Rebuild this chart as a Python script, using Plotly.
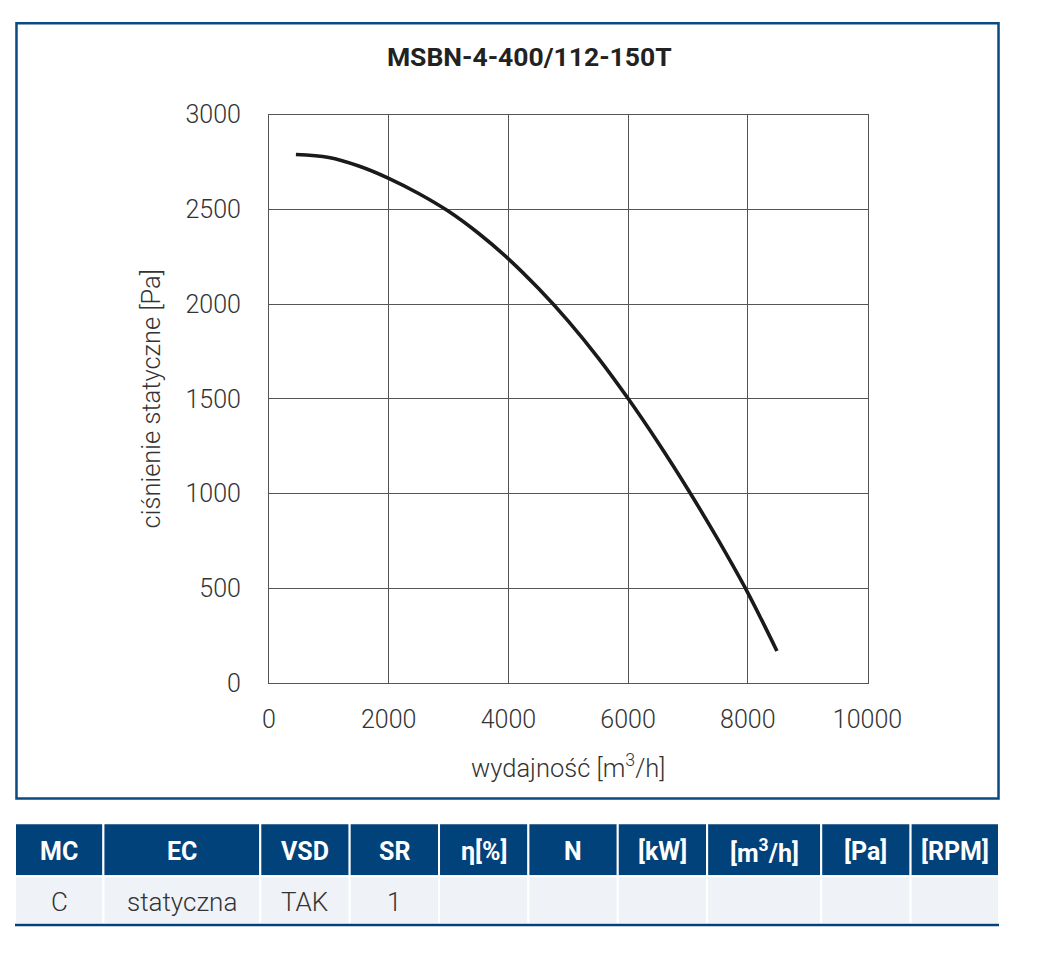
import plotly.graph_objs as go

## fan curve
flow = [450, 1000, 1500, 2000, 2500, 3000, 3500, 4000, 4500, 5000, 5500,
        6000, 6500, 7000, 7500, 8000, 8486]
pressure = [2790, 2774, 2729, 2664, 2584, 2490, 2374, 2239, 2083, 1910, 1716,
            1501, 1269, 1021, 757, 475, 168]

x_ticks = [0, 2000, 4000, 6000, 8000, 10000]
x_labels = ['0', '2000', '4000', '6000', '8000', '10000']
y_ticks = [0, 500, 1000, 1500, 2000, 2500, 3000]

## table below the chart
table_header = ['MC', 'EC', 'VSD', 'SR', 'η[%]', 'N', '[kW]', '[m<sup>3</sup>/h]', '[Pa]', '[RPM]']
table_row = ['C', 'statyczna', 'TAK', '1', '', '', '', '', '', '']
col_widths = [93, 165, 94, 94, 94, 94, 94, 120, 94, 93]

BLUE = '#02427a'
FONT = 'Roboto'
## the page area the figure gets (autosize) in screenshot pixels
PW, PH = 989, 915
OX, OY = 14, 20

def px(x):
    return max(0.0, min(1.0, (x - OX) / PW))

def py(y):
    return max(0.0, min(1.0, 1 - (y - OY) / PH))

fig = go.Figure()
fig.add_trace(go.Scatter(x=flow, y=pressure, mode='lines', line=dict(color='#1a1a1a', width=3.6, shape='spline'),
                         showlegend=False, hoverinfo='x+y'))

axis_style = dict(showline=True, mirror=True, linecolor='#555555', linewidth=1, showgrid=True,
                  gridcolor='#555555', gridwidth=1, zeroline=False, ticks='',
                  tickfont=dict(family=FONT, size=25, color='#333333', weight=300))

fig.update_xaxes(range=[0, 10000], tickvals=x_ticks, ticktext=x_labels, domain=[px(269), px(870)],
                 ticklabelstandoff=14, title_text='wydajność [m<sup>3</sup>/h]', title_standoff=26,
                 title_font=dict(family=FONT, size=25.5, color='#333333', weight=300), **axis_style)
fig.update_yaxes(range=[0, 3000], tickvals=y_ticks, domain=[py(683), py(113)], ticklabelstandoff=22,
                 title_text='ciśnienie statyczne [Pa]', title_standoff=17,
                 title_font=dict(family=FONT, size=25.5, color='#333333', weight=300), **axis_style)

## outer frame round the chart
shapes = [dict(type='rect', xref='paper', yref='paper', x0=0.0015, x1=0.9985, y0=py(799), y1=0.9985,
               line=dict(color='#0a4a82', width=2.5))]
annotations = []
## table drawn as paper shapes + annotations, squeezed a little to fit the page width
k = (1002 - OX) / sum(col_widths)
left = OX
for head, val, w in zip(table_header, table_row, col_widths):
    right = left + w * k
    shapes.append(dict(type='rect', xref='paper', yref='paper', x0=px(left), x1=px(right), y0=py(877), y1=py(824),
                       fillcolor=BLUE, line=dict(color='white', width=2), layer='below'))
    shapes.append(dict(type='rect', xref='paper', yref='paper', x0=px(left), x1=px(right), y0=py(925), y1=py(877),
                       fillcolor='#eff2f7', line=dict(color='white', width=2), layer='below'))
    mid = (left + right) / 2
    annotations.append(dict(text='<b>%s</b>' % head, x=px(mid), y=py(852), xref='paper', yref='paper',
                            xanchor='center', yanchor='middle', showarrow=False,
                            font=dict(family=FONT, size=25, color='white')))
    if val:
        annotations.append(dict(text=val, x=px(mid), y=py(903), xref='paper', yref='paper',
                                xanchor='center', yanchor='middle', showarrow=False,
                                font=dict(family=FONT, size=26, color='#333333', weight=300)))
    left = right
shapes.append(dict(type='line', xref='paper', yref='paper', x0=px(OX), x1=px(1002), y0=py(926), y1=py(926),
                   line=dict(color=BLUE, width=2.5)))

fig.update_layout(margin=dict(l=0, r=0, t=0, b=0), paper_bgcolor='white', plot_bgcolor='white',
                  title=dict(text='<b>MSBN-4-400/112-150T</b>', x=px(516), xanchor='center', y=py(67), yanchor='middle',
                             font=dict(family=FONT, size=26.5, color='#222222')),
                  shapes=shapes, annotations=annotations)
fig.write_html("out.html")
